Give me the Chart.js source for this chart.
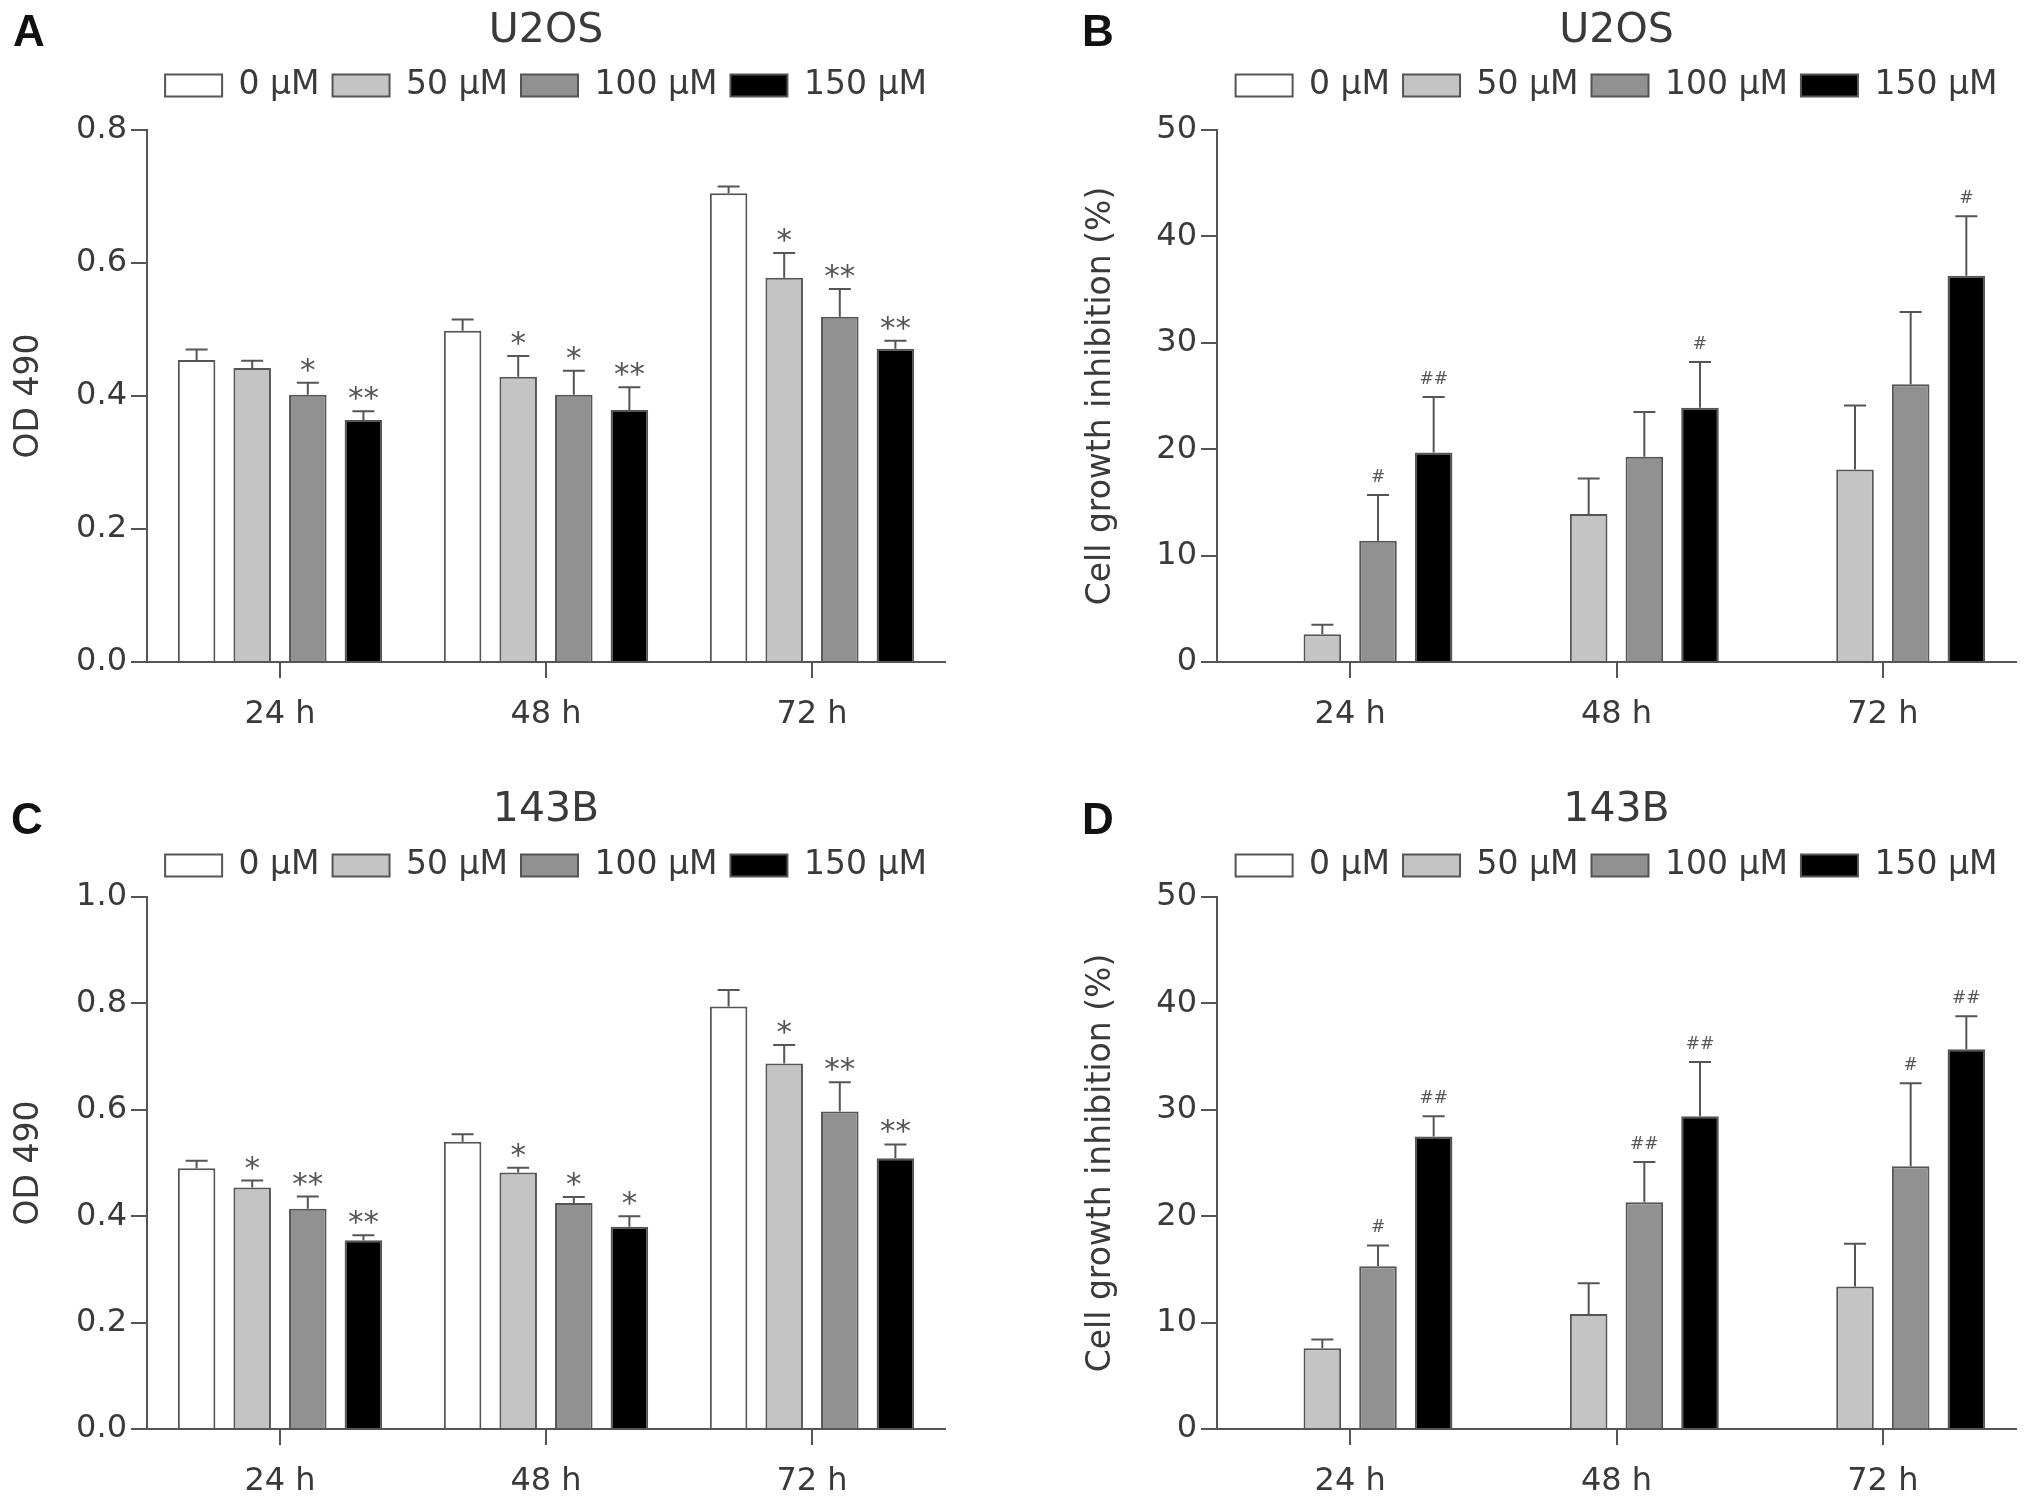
<!DOCTYPE html>
<html>
<head>
<meta charset="utf-8">
<script src="https://cdn.jsdelivr.net/npm/chart.js@4.4.1/dist/chart.umd.min.js"></script>
<style>
  body { margin: 0; background: #fff; }
  #page { position: relative; width: 2031px; height: 1501px; overflow: hidden; }
  canvas { position: absolute; }
  .tag { position: absolute; font: bold 44px "Liberation Sans", Arial, sans-serif; line-height: 1; color: #111; }
</style>
</head>
<body>
<div id="page">
  <canvas id="chartA" width="1015" height="734" style="left:0;top:0;width:1015px;height:734px"></canvas>
  <canvas id="chartB" width="1016" height="734" style="left:1015px;top:0;width:1016px;height:734px"></canvas>
  <canvas id="chartC" width="1015" height="734" style="left:0;top:767px;width:1015px;height:734px"></canvas>
  <canvas id="chartD" width="1016" height="734" style="left:1015px;top:767px;width:1016px;height:734px"></canvas>
  <div class="tag" style="left:13px;top:9px">A</div>
  <div class="tag" style="left:1082px;top:9px">B</div>
  <div class="tag" style="left:11px;top:797px">C</div>
  <div class="tag" style="left:1082px;top:797px">D</div>
</div>
<script>
// time points and doses
const categories = ["24 h", "48 h", "72 h"];
const doses = ["0 µM", "50 µM", "100 µM", "150 µM"];
const doseColors = ["#ffffff", "#c4c4c4", "#919191", "#000000"];

// A: U2OS, OD 490
const u2osOd0 = [0.454, 0.498, 0.705];
const u2osOd50 = [0.442, 0.429, 0.578];
const u2osOd100 = [0.402, 0.402, 0.519];
const u2osOd150 = [0.364, 0.379, 0.471];
const u2osOd0Err = [0.016, 0.017, 0.010];
const u2osOd50Err = [0.011, 0.031, 0.037];
const u2osOd100Err = [0.018, 0.036, 0.042];
const u2osOd150Err = [0.013, 0.034, 0.012];
const u2osOdSig = [["", "", ""], ["", "*", "*"], ["*", "*", "**"], ["**", "**", "**"]];

// B: U2OS, growth inhibition (%)
const u2osInh0 = [0, 0, 0];
const u2osInh50 = [2.6, 13.9, 18.1];
const u2osInh100 = [11.4, 19.3, 26.1];
const u2osInh150 = [19.7, 23.9, 36.3];
const u2osInh0Err = [0, 0, 0];
const u2osInh50Err = [0.9, 3.35, 6.0];
const u2osInh100Err = [4.3, 4.2, 6.8];
const u2osInh150Err = [5.2, 4.3, 5.6];
const u2osInhSig = [["", "", ""], ["", "", ""], ["#", "", ""], ["##", "#", "#"]];

// C: 143B, OD 490
const b143Od0 = [0.490, 0.540, 0.794];
const b143Od50 = [0.454, 0.482, 0.687];
const b143Od100 = [0.414, 0.425, 0.597];
const b143Od150 = [0.355, 0.380, 0.509];
const b143Od0Err = [0.014, 0.014, 0.031];
const b143Od50Err = [0.013, 0.009, 0.035];
const b143Od100Err = [0.023, 0.011, 0.055];
const b143Od150Err = [0.009, 0.020, 0.026];
const b143OdSig = [["", "", ""], ["*", "*", "*"], ["**", "*", "**"], ["**", "*", "**"]];

// D: 143B, growth inhibition (%)
const b143Inh0 = [0, 0, 0];
const b143Inh50 = [7.6, 10.8, 13.4];
const b143Inh100 = [15.3, 21.3, 24.7];
const b143Inh150 = [27.5, 29.4, 35.7];
const b143Inh0Err = [0, 0, 0];
const b143Inh50Err = [0.8, 2.9, 4.0];
const b143Inh100Err = [1.95, 3.8, 7.8];
const b143Inh150Err = [1.9, 5.1, 3.1];
const b143InhSig = [["", "", ""], ["", "", ""], ["#", "##", "#"], ["##", "##", "##"]];

const odTicks = [0, 0.2, 0.4, 0.6, 0.8, 1.0];
const inhTicks = [0, 10, 20, 30, 40, 50];

const TEXT = "#3a3a3a";
const LINE = "#555555";
const FONT = '"DejaVu Sans", "Liberation Sans", sans-serif';
Chart.defaults.font.family = FONT;
Chart.defaults.color = TEXT;

// error bar (upper half only) and significance marks
const errorBars = {
    id: "errorBars",
    afterDatasetsDraw(chart) {
        const ctx = chart.ctx;
        const y = chart.scales.y;
        chart.data.datasets.forEach(function (ds, i) {
            chart.getDatasetMeta(i).data.forEach(function (bar, j) {
                const err = ds.errors[j];
                const top = y.getPixelForValue(ds.data[j] + err);
                ctx.save();
                if (err > 0) {
                    ctx.strokeStyle = LINE;
                    ctx.lineWidth = 2;
                    ctx.beginPath();
                    ctx.moveTo(bar.x, bar.y);
                    ctx.lineTo(bar.x, top);
                    ctx.moveTo(bar.x - 11, top);
                    ctx.lineTo(bar.x + 11, top);
                    ctx.stroke();
                }
                const mark = ds.marks[j];
                if (mark) {
                    const star = mark[0] === "*";
                    ctx.fillStyle = LINE;
                    ctx.textAlign = "center";
                    ctx.textBaseline = "alphabetic";
                    ctx.font = (star ? 31 : 17) + "px " + FONT;
                    ctx.fillText(mark, bar.x, top - (star ? 3 : 13));
                }
                ctx.restore();
            });
        });
    }
};

// fixes the legend block height so the plot starts where it should
const legendGap = {
    id: "legendGap",
    afterInit(chart, args, opts) {
        const lg = chart.legend;
        const fit = lg.fit.bind(lg);
        lg.fit = function () {
            fit();
            this.height = opts.height;
        };
    }
};

function renderPanel(id, p) {
    const ctx = document.getElementById(id).getContext("2d");
    new Chart(ctx, {
        type: "bar",
        data: {
            labels: categories,
            datasets: doses.map(function (d, k) {
                return {
                    label: d,
                    data: p.values[k],
                    errors: p.errors[k],
                    marks: p.marks[k],
                    backgroundColor: doseColors[k],
                    borderColor: LINE,
                    borderWidth: 2,
                    categoryPercentage: 0.836,
                    barPercentage: 0.675
                };
            })
        },
        options: {
            responsive: false,
            animation: false,
            devicePixelRatio: 1,
            layout: { padding: { left: p.padLeft, right: p.padRight, top: p.padTop, bottom: 2 } },
            plugins: {
                title: {
                    display: true,
                    text: p.title,
                    fullSize: false,
                    color: TEXT,
                    font: { size: 41, weight: "normal", lineHeight: 1 },
                    padding: { top: 0, bottom: p.titleGap }
                },
                legend: {
                    display: true,
                    position: "top",
                    fullSize: false,
                    labels: { boxWidth: 57, boxHeight: 22, padding: 13, color: TEXT, font: { size: 33 } }
                },
                legendGap: { height: p.legendHeight },
                tooltip: { enabled: false }
            },
            scales: {
                x: {
                    offset: true,
                    grid: { drawOnChartArea: false, offset: false, tickLength: 16, color: LINE, lineWidth: 2 },
                    border: { color: LINE, width: 2 },
                    ticks: { color: TEXT, font: { size: 32 }, padding: 17, maxRotation: 0 },
                    afterFit: function (s) { s.height = 70; }
                },
                y: {
                    min: 0,
                    max: p.ticks[p.ticks.length - 1],
                    afterBuildTicks: function (s) { s.ticks = p.ticks.map(function (v) { return { value: v }; }); },
                    grid: { drawOnChartArea: false, tickLength: 16, color: LINE, lineWidth: 2 },
                    border: { color: LINE, width: 2 },
                    ticks: {
                        color: TEXT, font: { size: 32 }, padding: 4,
                        callback: function (v) { return p.decimals ? v.toFixed(1) : String(v); }
                    },
                    title: { display: true, text: p.yTitle, color: TEXT, font: { size: 33 }, padding: 0 },
                    afterFit: function (s) { s.width = p.yWidth; }
                }
            }
        },
        plugins: [errorBars, legendGap]
    });
}

renderPanel("chartA", {
    title: "U2OS", yTitle: "OD 490", decimals: true, ticks: odTicks.slice(0, 5),
    values: [u2osOd0, u2osOd50, u2osOd100, u2osOd150],
    errors: [u2osOd0Err, u2osOd50Err, u2osOd100Err, u2osOd150Err],
    marks: u2osOdSig,
    padLeft: 10, padRight: 70, padTop: 11, yWidth: 137, titleGap: 4, legendHeight: 74
});
renderPanel("chartB", {
    title: "U2OS", yTitle: "Cell growth inhibition (%)", decimals: false, ticks: inhTicks,
    values: [u2osInh0, u2osInh50, u2osInh100, u2osInh150],
    errors: [u2osInh0Err, u2osInh50Err, u2osInh100Err, u2osInh150Err],
    marks: u2osInhSig,
    padLeft: 67, padRight: 15, padTop: 11, yWidth: 135, titleGap: 4, legendHeight: 74
});
renderPanel("chartC", {
    title: "143B", yTitle: "OD 490", decimals: true, ticks: odTicks,
    values: [b143Od0, b143Od50, b143Od100, b143Od150],
    errors: [b143Od0Err, b143Od50Err, b143Od100Err, b143Od150Err],
    marks: b143OdSig,
    padLeft: 10, padRight: 70, padTop: 23, yWidth: 137, titleGap: 5, legendHeight: 61
});
renderPanel("chartD", {
    title: "143B", yTitle: "Cell growth inhibition (%)", decimals: false, ticks: inhTicks,
    values: [b143Inh0, b143Inh50, b143Inh100, b143Inh150],
    errors: [b143Inh0Err, b143Inh50Err, b143Inh100Err, b143Inh150Err],
    marks: b143InhSig,
    padLeft: 67, padRight: 15, padTop: 23, yWidth: 135, titleGap: 5, legendHeight: 61
});
</script>
</body>
</html>
